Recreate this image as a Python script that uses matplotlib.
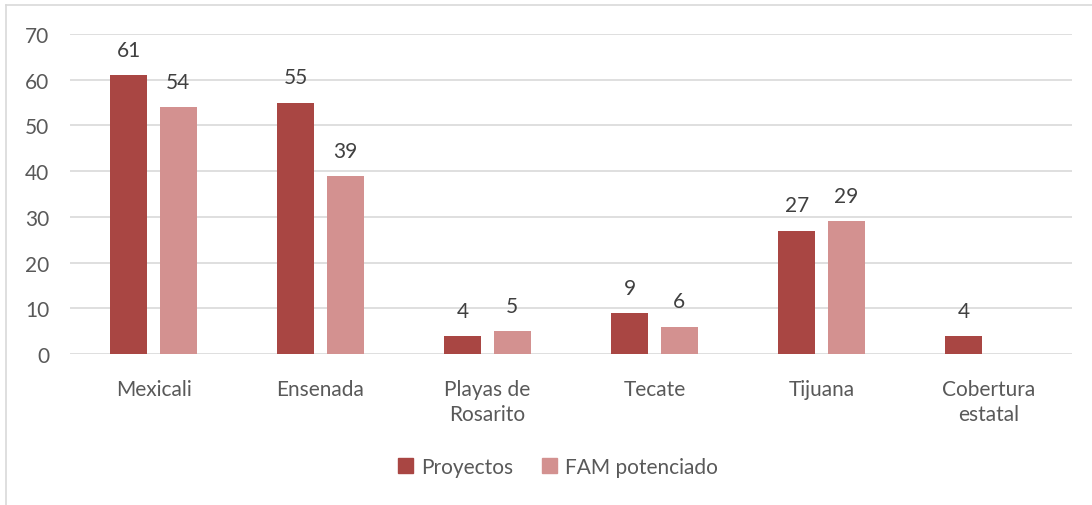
import matplotlib
matplotlib.use("Agg")
import matplotlib.pyplot as plt
import numpy as np
from matplotlib.lines import Line2D

categories = ["Mexicali", "Ensenada", "Playas de\nRosarito", "Tecate", "Tijuana", "Cobertura\nestatal"]
proyectos = [61, 55, 4, 9, 27, 4]
fam = [54, 39, 5, 6, 29, None]
series_names = ["Proyectos", "FAM potenciado"]
yticks = [0, 10, 20, 30, 40, 50, 60, 70]

c1 = "#A94643"
c2 = "#D39190"
tc = "#595959"
plt.rcParams['font.family'] = ['Lato', 'DejaVu Sans']
fs = 15

fig = plt.figure(figsize=(10.92, 5.06), dpi=100)
ax = fig.add_axes([70/1092, 1-355/506, 1002/1092, 320/506])

x = np.arange(len(categories))
w = 0.222
off = 0.147
fam_vals = [v if v is not None else 0 for v in fam]
ax.bar(x - off, proyectos, w, color=c1, zorder=3)
ax.bar(x + off, fam_vals, w, color=c2, zorder=3)
for xi, v in zip(x, proyectos):
    ax.text(xi - off, v + 3.3, str(v), ha='center', va='bottom', fontsize=fs, color='#404040')
for xi, v in zip(x, fam):
    if v is not None:
        ax.text(xi + off, v + 3.3, str(v), ha='center', va='bottom', fontsize=fs, color='#404040')

ax.set_xlim(-0.5, len(categories) - 0.5)
ax.set_ylim(0, 70)
ax.set_yticks(yticks)
ax.set_yticklabels([str(t) for t in yticks], fontsize=fs, color=tc)
ax.set_xticks(x)
ax.set_xticklabels(categories, fontsize=fs, color=tc, linespacing=1.3)
ax.tick_params(axis='both', length=0)
ax.tick_params(axis='y', pad=15)
ax.tick_params(axis='x', pad=18)
ax.grid(axis='y', color='#D9D9D9', linewidth=1.2, zorder=0)
for s in ax.spines.values():
    s.set_visible(False)

handles = [plt.Rectangle((0, 0), 1, 1, color=c1), plt.Rectangle((0, 0), 1, 1, color=c2)]
fig.legend(handles, series_names, loc='center', bbox_to_anchor=(558/1092, 1-468/506), ncol=2,
           frameon=False, fontsize=fs, labelcolor=tc, handlelength=0.7, handleheight=0.7,
           columnspacing=1.4, handletextpad=0.4)

fig.add_artist(Line2D([6/1092, 6/1092], [0, 1-6/506], color='#D9D9D9', lw=1.2))
fig.add_artist(Line2D([6/1092, 1], [1-6/506, 1-6/506], color='#D9D9D9', lw=1.2))

fig.savefig("out.png", dpi=100)
